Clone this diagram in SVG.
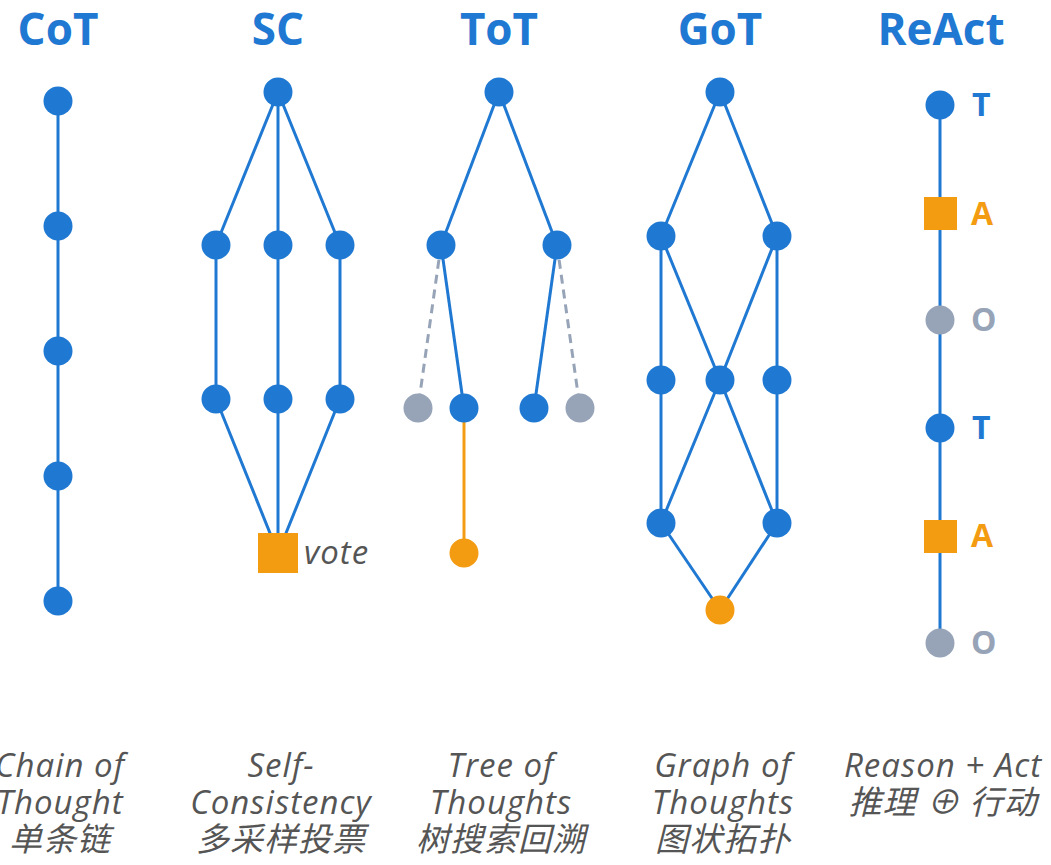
<svg xmlns="http://www.w3.org/2000/svg" width="1051" height="865" viewBox="0 0 1051 865">
  <style>
    .title { font-family: "Open Sans", "Noto Sans", sans-serif; font-weight: 700; font-size: 44px; fill: #1f78d1; text-anchor: middle; }
    .cap { font-family: "Open Sans", "Noto Sans", "Noto Sans CJK SC", sans-serif; font-style: italic; font-size: 33px; letter-spacing: 1px; fill: #555555; text-anchor: middle; }
    .edge { stroke: #1f78d1; stroke-width: 3; fill: none; }
    .edge-o { stroke: #f39c12; stroke-width: 3; fill: none; }
    .edge-d { stroke: #97a4b8; stroke-width: 3; fill: none; stroke-dasharray: 9 6; }
    .n { fill: #1f78d1; }
    .g { fill: #97a4b8; }
    .o { fill: #f39c12; }
    .lab { font-family: "Open Sans", "Noto Sans", sans-serif; font-weight: 700; font-size: 32px; }
  </style>

  <!-- column titles -->
  <g id="titles">
    <text class="title" x="58" y="45">CoT</text>
    <text class="title" x="278" y="45">SC</text>
    <text class="title" x="499" y="45">ToT</text>
    <text class="title" x="720" y="45">GoT</text>
    <text class="title" x="941" y="45">ReAct</text>
  </g>

  <!-- connectors -->
  <g id="connectors">
    <!-- CoT chain -->
    <line class="edge" x1="58" y1="101" x2="58" y2="601"/>
    <!-- SC -->
    <line class="edge" x1="278" y1="92" x2="216" y2="245"/>
    <line class="edge" x1="278" y1="92" x2="278" y2="245"/>
    <line class="edge" x1="278" y1="92" x2="340" y2="245"/>
    <line class="edge" x1="216" y1="245" x2="216" y2="399"/>
    <line class="edge" x1="278" y1="245" x2="278" y2="399"/>
    <line class="edge" x1="340" y1="245" x2="340" y2="399"/>
    <line class="edge" x1="216" y1="399" x2="278" y2="553"/>
    <line class="edge" x1="278" y1="399" x2="278" y2="553"/>
    <line class="edge" x1="340" y1="399" x2="278" y2="553"/>
    <!-- ToT -->
    <line class="edge" x1="499" y1="92" x2="441" y2="245"/>
    <line class="edge" x1="499" y1="92" x2="557" y2="245"/>
    <line class="edge-d" x1="441" y1="245" x2="418" y2="408"/>
    <line class="edge" x1="441" y1="245" x2="464" y2="408"/>
    <line class="edge" x1="557" y1="245" x2="534" y2="408"/>
    <line class="edge-d" x1="557" y1="245" x2="580" y2="408"/>
    <line class="edge-o" x1="464" y1="408" x2="464" y2="553"/>
    <!-- GoT -->
    <line class="edge" x1="720" y1="92" x2="661" y2="236"/>
    <line class="edge" x1="720" y1="92" x2="777" y2="236"/>
    <line class="edge" x1="661" y1="236" x2="661" y2="380"/>
    <line class="edge" x1="661" y1="236" x2="720" y2="380"/>
    <line class="edge" x1="777" y1="236" x2="720" y2="380"/>
    <line class="edge" x1="777" y1="236" x2="777" y2="380"/>
    <line class="edge" x1="661" y1="380" x2="661" y2="523"/>
    <line class="edge" x1="720" y1="380" x2="661" y2="523"/>
    <line class="edge" x1="720" y1="380" x2="777" y2="523"/>
    <line class="edge" x1="777" y1="380" x2="777" y2="523"/>
    <line class="edge" x1="661" y1="523" x2="720" y2="610"/>
    <line class="edge" x1="777" y1="523" x2="720" y2="610"/>
    <!-- ReAct -->
    <line class="edge" x1="940" y1="105" x2="940" y2="643"/>
  </g>

  <!-- CoT nodes -->
  <g id="cot">
    <circle class="n" cx="58" cy="101" r="14.5"/>
    <circle class="n" cx="58" cy="226" r="14.5"/>
    <circle class="n" cx="58" cy="351" r="14.5"/>
    <circle class="n" cx="58" cy="476" r="14.5"/>
    <circle class="n" cx="58" cy="601" r="14.5"/>
  </g>

  <!-- SC nodes -->
  <g id="sc">
    <circle class="n" cx="278" cy="92" r="14.5"/>
    <circle class="n" cx="216" cy="245" r="14.5"/>
    <circle class="n" cx="278" cy="245" r="14.5"/>
    <circle class="n" cx="340" cy="245" r="14.5"/>
    <circle class="n" cx="216" cy="399" r="14.5"/>
    <circle class="n" cx="278" cy="399" r="14.5"/>
    <circle class="n" cx="340" cy="399" r="14.5"/>
    <rect class="o" x="258" y="533" width="40" height="40"/>
    <text class="cap" x="304" y="564" style="text-anchor:start">vote</text>
  </g>

  <!-- ToT nodes -->
  <g id="tot">
    <circle class="n" cx="499" cy="92" r="14.5"/>
    <circle class="n" cx="441" cy="245" r="14.5"/>
    <circle class="n" cx="557" cy="245" r="14.5"/>
    <circle class="g" cx="418" cy="408" r="14.5"/>
    <circle class="n" cx="464" cy="408" r="14.5"/>
    <circle class="n" cx="534" cy="408" r="14.5"/>
    <circle class="g" cx="580" cy="408" r="14.5"/>
    <circle class="o" cx="464" cy="553" r="14.5"/>
  </g>

  <!-- GoT nodes -->
  <g id="got">
    <circle class="n" cx="720" cy="92" r="14.5"/>
    <circle class="n" cx="661" cy="236" r="14.5"/>
    <circle class="n" cx="777" cy="236" r="14.5"/>
    <circle class="n" cx="661" cy="380" r="14.5"/>
    <circle class="n" cx="720" cy="380" r="14.5"/>
    <circle class="n" cx="777" cy="380" r="14.5"/>
    <circle class="n" cx="661" cy="523" r="14.5"/>
    <circle class="n" cx="777" cy="523" r="14.5"/>
    <circle class="o" cx="720" cy="610" r="14.5"/>
  </g>

  <!-- ReAct nodes -->
  <g id="react">
    <circle class="n" cx="940" cy="105" r="14.5"/>
    <text class="lab" x="972" y="116" fill="#1f78d1">T</text>
    <rect class="o" x="924" y="197" width="33" height="33"/>
    <text class="lab" x="971" y="225" fill="#f39c12">A</text>
    <circle class="g" cx="940" cy="320" r="14.5"/>
    <text class="lab" x="971" y="331" fill="#97a4b8">O</text>
    <circle class="n" cx="940" cy="428" r="14.5"/>
    <text class="lab" x="972" y="439" fill="#1f78d1">T</text>
    <rect class="o" x="924" y="520" width="33" height="33"/>
    <text class="lab" x="971" y="547" fill="#f39c12">A</text>
    <circle class="g" cx="940" cy="643" r="14.5"/>
    <text class="lab" x="971" y="654" fill="#97a4b8">O</text>
  </g>

  <!-- captions -->
  <g id="captions">
    <text class="cap" x="60" y="777">Chain of</text>
    <text class="cap" x="60" y="814">Thought</text>
    <text class="cap" x="60" y="851">单条链</text>
    <text class="cap" x="281" y="777">Self-</text>
    <text class="cap" x="281" y="814">Consistency</text>
    <text class="cap" x="281" y="851">多采样投票</text>
    <text class="cap" x="501" y="777">Tree of</text>
    <text class="cap" x="501" y="814">Thoughts</text>
    <text class="cap" x="501" y="851">树搜索回溯</text>
    <text class="cap" x="723" y="777">Graph of</text>
    <text class="cap" x="723" y="814">Thoughts</text>
    <text class="cap" x="723" y="851">图状拓扑</text>
    <text class="cap" x="943" y="777">Reason + Act</text>
    <text class="cap" x="943" y="814">推理 ⊕ 行动</text>
  </g>
</svg>
